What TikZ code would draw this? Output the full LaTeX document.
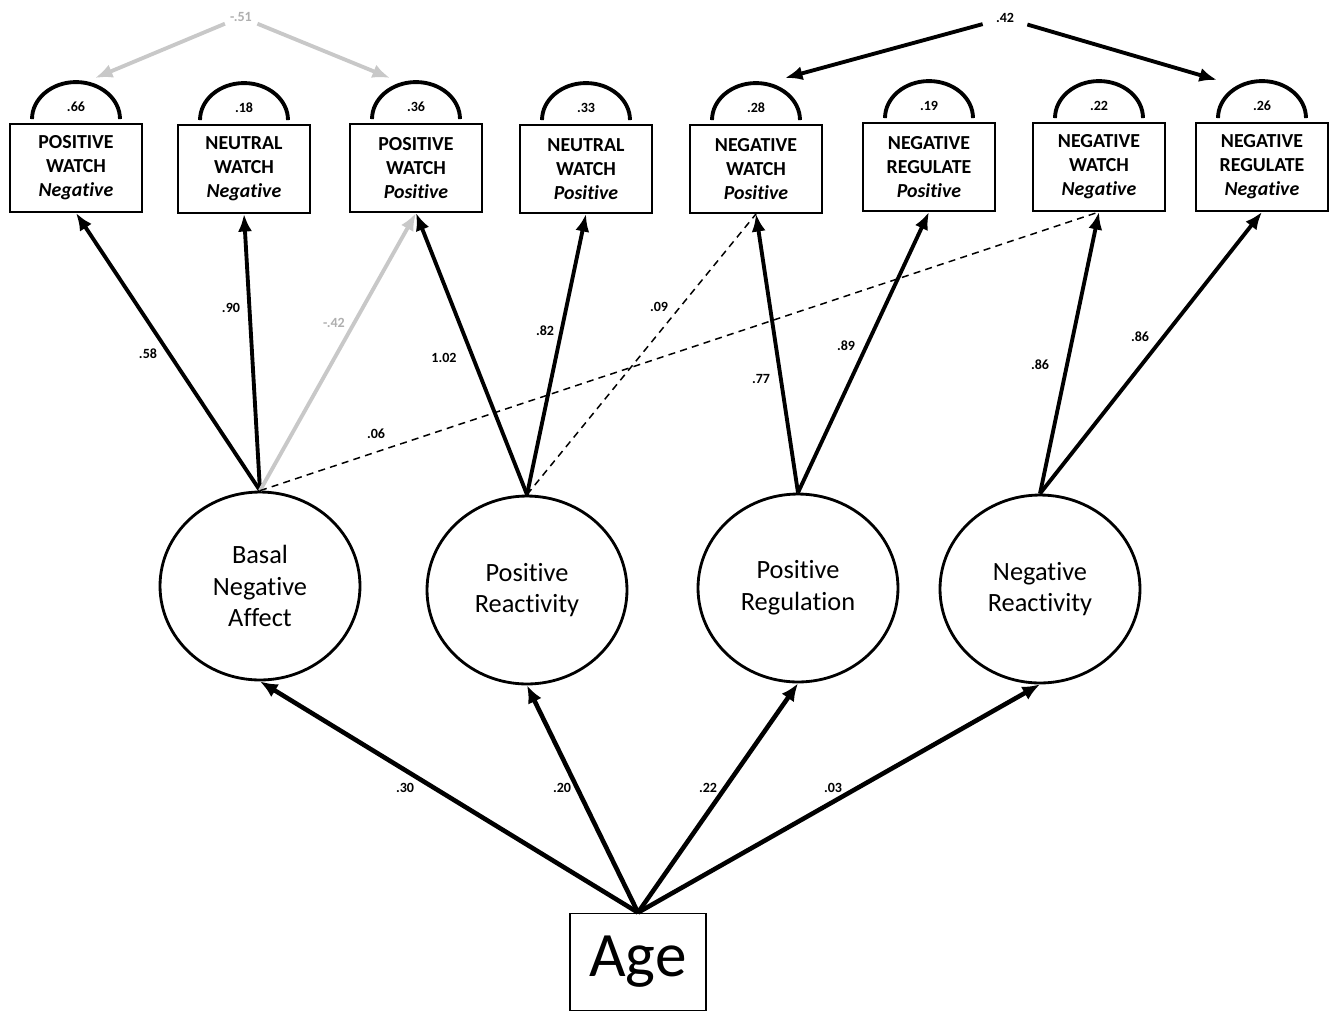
\documentclass[tikz,border=0pt]{standalone}
\usepackage{fontspec}
\setmainfont{Carlito}[Ligatures={NoCommon}]
\usetikzlibrary{shapes.geometric,arrows.meta,calc}
\definecolor{lgray}{RGB}{200,200,200}
\definecolor{lgrayt}{RGB}{175,175,175}
\tikzset{
  ind/.style={draw,line width=1.1pt,minimum width=2.64cm,minimum height=1.76cm,inner sep=0pt,align=center,font=\fontsize{11.3}{13.6}\selectfont\bfseries},
  lat/.style={draw,ellipse,line width=1.6pt,minimum width=4.0cm,minimum height=3.76cm,inner sep=0pt,align=center,font=\fontsize{15}{18}\selectfont},
  agebox/.style={draw,line width=1.1pt,minimum width=2.72cm,minimum height=1.94cm,inner sep=0pt,font=\fontsize{36}{40}\selectfont},
  lbl/.style={font=\fontsize{8}{9}\selectfont\bfseries,inner sep=1pt},
  covlbl/.style={font=\fontsize{8}{9}\selectfont\bfseries,inner ysep=1pt,inner xsep=0.26cm},
  vararc/.style={line width=2.2pt},
  path/.style={line width=2.2pt,-{Latex[length=10pt,width=8pt]}},
  agepath/.style={line width=2.6pt,-{Latex[length=10pt,width=8.5pt]}},
  grpath/.style={path,draw=lgray},
  dpath/.style={line width=0.85pt,dash pattern=on 4pt off 3pt},
}
\begin{document}
\begin{tikzpicture}[x=0.02cm,y=-0.02cm]
\useasboundingbox (0,0) rectangle (1330,1012);
% indicators
\node[ind] (b1) at (76,168) {POSITIVE\\WATCH\\\textit{Negative}};
\node[ind] (b2) at (244,169) {NEUTRAL\\WATCH\\\textit{Negative}};
\node[ind] (b3) at (416,168) {POSITIVE\\WATCH\\\textit{Positive}};
\node[ind] (b4) at (586,169) {NEUTRAL\\WATCH\\\textit{Positive}};
\node[ind] (b5) at (756,169) {NEGATIVE\\WATCH\\\textit{Positive}};
\node[ind] (b6) at (929,167) {NEGATIVE\\REGULATE\\\textit{Positive}};
\node[ind] (b7) at (1099,167) {NEGATIVE\\WATCH\\\textit{Negative}};
\node[ind] (b8) at (1262,167) {NEGATIVE\\REGULATE\\\textit{Negative}};
% residual variances
\foreach \b/\v in {b1/.66,b2/.18,b3/.36,b4/.33,b5/.28,b6/.19,b7/.22,b8/.26}{
  \draw[vararc] ([xshift=-0.88cm,yshift=0.08cm]\b.north) arc[start angle=180,end angle=0,x radius=0.88cm,y radius=0.74cm];
  \node[lbl] (v\b) at ([yshift=0.33cm]\b.north) {\v};
}
% covariances
\node[covlbl,text=lgrayt] (c1) at (241,17) {-.51};
\coordinate (c1l) at (95,78);
\coordinate (c1r) at (390,78);
\draw[grpath] (c1) -- (c1l);
\draw[grpath] (c1) -- (c1r);
\node[covlbl] (c2) at (1005,18) {.42};
\coordinate (c2l) at (785,78);
\coordinate (c2r) at (1217,80);
\draw[path] (c2) -- (c2l);
\draw[path] (c2) -- (c2r);
% latent factors
\node[lat] (L1) at (260,586) {Basal\\Negative\\Affect};
\node[lat] (L2) at (527,590) {Positive\\Reactivity};
\node[lat] (L3) at (798,588) {Positive\\Regulation};
\node[lat] (L4) at (1040,589) {Negative\\Reactivity};
% Age
\node[agebox] (age) at (638,962) {Age};
% loadings
\draw[path] (L1.north) -- (b1.south);
\draw[path] (L1.north) -- (b2.south);
\draw[grpath] (L1.north) -- (b3.south);
\draw[dpath] (L1.north) -- (b7.south);
\draw[path] (L2.north) -- (b3.south);
\draw[path] (L2.north) -- (b4.south);
\draw[dpath] (L2.north) -- (b5.south);
\draw[path] (L3.north) -- (b5.south);
\draw[path] (L3.north) -- (b6.south);
\draw[path] (L4.north) -- (b7.south);
\draw[path] (L4.north) -- (b8.south);
\node[lbl] (l1) at (148,354) {.58};
\node[lbl] (l2) at (231,308) {.90};
\node[lbl,text=lgrayt] (l3) at (334,323) {-.42};
\node[lbl] (l4) at (376,434) {.06};
\node[lbl] (l5) at (444,358) {1.02};
\node[lbl] (l6) at (545,331) {.82};
\node[lbl] (l7) at (659,307) {.09};
\node[lbl] (l8) at (761,379) {.77};
\node[lbl] (l9) at (846,346) {.89};
\node[lbl] (l10) at (1040,365) {.86};
\node[lbl] (l11) at (1140,337) {.86};
% age paths
\draw[agepath] (age.north) -- (L1.south);
\draw[agepath] (age.north) -- (L2.south);
\draw[agepath] (age.north) -- (L3.south);
\draw[agepath] (age.north) -- (L4.south);
\node[lbl] (a1) at (405,788) {.30};
\node[lbl] (a2) at (562,788) {.20};
\node[lbl] (a3) at (708,788) {.22};
\node[lbl] (a4) at (833,788) {.03};
\end{tikzpicture}
\end{document}
